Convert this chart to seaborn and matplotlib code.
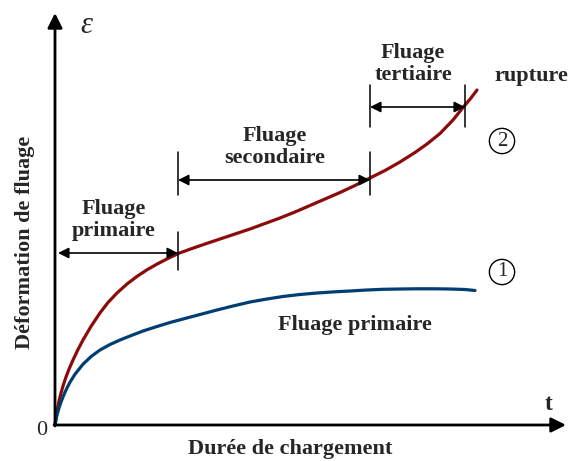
"""Courbe de fluage schématique : primaire, secondaire, tertiaire."""

import matplotlib

matplotlib.use("Agg")
import matplotlib.pyplot as plt  # noqa: E402
import pandas as pd  # noqa: E402
import seaborn as sns  # noqa: E402

# courbe 2 : fluage complet jusqu'à rupture
t_curve2 = [0, 2, 4, 6, 8, 11, 14, 18, 23, 28, 36, 45, 53, 62, 72, 82, 92,
            102, 112, 123, 135, 150, 165, 180, 195, 210, 225, 240, 255, 270,
            285, 300, 315, 330, 345, 360, 372, 385, 398, 408, 416, 422]
eps_curve2 = [0, 14, 24, 32, 39, 48, 55.8, 65, 75.5, 85, 98.6, 112.1, 122.5,
              132, 141, 148.6, 155.2, 160.9, 166.1, 171.4, 175.8, 181, 186,
              191, 196, 201.5, 207, 213, 219.5, 226, 232.5, 239.5, 247, 254.5,
              263, 272.5, 281, 291.5, 305, 317.5, 327, 335]

# courbe 1 : fluage primaire seul
t_curve1 = [0, 2, 4, 6, 9, 12, 15, 20, 28, 36, 45, 55, 65, 75, 88, 102, 115,
            128, 145, 162, 178, 195, 212, 228, 245, 262, 280, 295, 312, 328,
            345, 362, 380, 395, 410, 420]
eps_curve1 = [0, 10, 17, 23, 30.5, 37.1, 42.8, 50.8, 60.8, 68.4, 75, 80.5, 85,
              89, 94, 98.5, 102.5, 106, 110.5, 115, 119, 123, 126, 128.5,
              130.5, 132, 133.2, 134, 135, 135.7, 136, 136.2, 136.2, 136,
              135.5, 134.5]

# limites des stades sur la courbe 2
stage_bounds = [3, 123, 315, 410]
stage_labels = ["Fluage\nprimaire", "Fluage\nsecondaire", "Fluage\ntertiaire"]

RED = "#8b0a0a"
BLUE = "#003d73"

sns.set_style("white")
plt.rcParams["font.family"] = ["Liberation Serif", "DejaVu Serif"]

df = pd.concat([
    pd.DataFrame({"t": t_curve2, "eps": eps_curve2, "courbe": "2"}),
    pd.DataFrame({"t": t_curve1, "eps": eps_curve1, "courbe": "1"}),
])

fig = plt.figure(figsize=(5.68, 4.61), dpi=100)
ax = fig.add_axes([0, 0, 1, 1])
sns.lineplot(data=df, x="t", y="eps", hue="courbe", palette={"2": RED, "1": BLUE},
             sort=False, lw=2.3, legend=False, solid_joinstyle="round",
             solid_capstyle="round", ax=ax)
ax.set_xlim(-55, 513)
ax.set_ylim(-36, 425)
ax.axis("off")

# axes avec flèches
axis_arrow = dict(arrowstyle="-|>", lw=2, color="black", mutation_scale=22,
                  shrinkA=0, shrinkB=0)
ax.annotate("", xy=(511, 0), xytext=(-1, 0), arrowprops=axis_arrow)
ax.annotate("", xy=(0, 412), xytext=(0, -1), arrowprops=axis_arrow)

# cotes des stades
dim_arrow = dict(arrowstyle="<|-|>", lw=1.2, color="black", mutation_scale=16,
                 shrinkA=0, shrinkB=0)
arrow_y = [172, 245, 318]
text_xy = [(59, 205), (220, 278), (358, 361)]
for i, label in enumerate(stage_labels):
    t0, t1 = stage_bounds[i], stage_bounds[i + 1]
    ay = arrow_y[i]
    ax.annotate("", xy=(t1, ay), xytext=(t0, ay), arrowprops=dim_arrow)
    ax.text(*text_xy[i], label, ha="center", va="center",
            fontsize=16, fontweight="bold", linespacing=1.15)

tick_kw = dict(color="black", lw=1.1)
ax.plot([123, 123], [155, 193], **tick_kw)
ax.plot([123, 123], [230, 273], **tick_kw)
ax.plot([315, 315], [230, 273], **tick_kw)
ax.plot([315, 315], [298, 340], **tick_kw)
ax.plot([410, 410], [298, 340], **tick_kw)

# étiquettes
ax.text(476, 349, "rupture", ha="center", va="center", fontsize=16,
        fontweight="bold")
circle = dict(boxstyle="circle,pad=0.15", fc="white", ec="black", lw=1)
ax.text(447, 284, "2", ha="center", va="center", fontsize=15, bbox=circle)
ax.text(447, 153, "1", ha="center", va="center", fontsize=15, bbox=circle)
ax.text(300, 100, "Fluage primaire", ha="center", va="center", fontsize=16,
        fontweight="bold")
ax.text(31, 399, "ε", ha="center", va="center", fontsize=22, style="italic")
ax.text(494, 21, "t", ha="center", va="center", fontsize=17, fontweight="bold")
ax.text(-13, -5, "0", ha="center", va="center", fontsize=16)
ax.text(-30, 183, "Déformation de fluage", ha="center", va="center",
        rotation=90, fontsize=16, fontweight="bold")
ax.text(235, -24, "Durée de chargement", ha="center", va="center",
        fontsize=16, fontweight="bold")

fig.savefig("out.png", dpi=100)
